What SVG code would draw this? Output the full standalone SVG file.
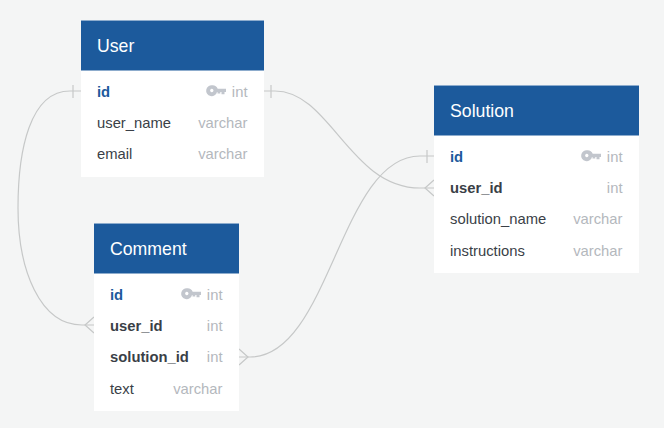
<svg xmlns="http://www.w3.org/2000/svg" width="664" height="428" viewBox="0 0 664 428">
<defs>
<g id="key"><path class="keyi" fill-rule="evenodd" d="M5.500 -5.800a5.500 5.500 0 0 1 5.200 3.500h8.300v3.200h-1.500v2.300h-3v-2.300h-1.200v1.700h-2.800v-1.700h-.5a5.500 5.500 0 1 1 -4.500 -6.700zM4.800 -2.200a1.700 1.700 0 1 0 .01 0z"/></g>
</defs>
<style>
text{font-family:"Liberation Sans",Arial,sans-serif;font-size:14.8px;fill:#3a3f47}
.h{font-size:17.7px;fill:#fff}
.b{font-weight:bold}
.p{font-weight:bold;fill:#1c5a9c}
.t{text-anchor:end;fill:#b4b8bd}
.hd{fill:#1c5a9c}
.bd{fill:#fff}
.keyi{fill:#c2c6cd}
.c{fill:none;stroke:#c6c8c8;stroke-width:1.2}
</style>
<rect width="664" height="428" fill="#f4f5f5"/>
<g id="connectors">
<path class="c" d="M81 91H70C30 91 18 150 18 208C18 270 40 325 82 325H94"/>
<path class="c" d="M73 85V98"/>
<path class="c" d="M94 317L85 325L94 333"/>
<path class="c" d="M264 91H275C330 91 350 188 420 188H434"/>
<path class="c" d="M271 85V98"/>
<path class="c" d="M434 180L425 188L434 196"/>
<path class="c" d="M239 357H250C330 357 340 156 420 156H434"/>
<path class="c" d="M427 150V163"/>
<path class="c" d="M239 349L248 357L239 365"/>
</g>
<g id="user">
<rect class="bd" x="81" y="20" width="183" height="157"/>
<rect class="hd" x="81" y="20.500" width="183" height="50"/>
<text class="h" x="97" y="51.500">User</text>
<text class="p" x="97" y="96.500">id</text><use href="#key" x="207" y="91"/><text class="t" x="247.500" y="96.500">int</text>
<text x="97" y="128">user_name</text><text class="t" x="247.500" y="128">varchar</text>
<text x="97" y="159">email</text><text class="t" x="247.500" y="159">varchar</text>
</g>
<g id="comment">
<rect class="bd" x="94" y="223" width="145" height="188"/>
<rect class="hd" x="94" y="223.500" width="145" height="50"/>
<text class="h" x="110" y="254.500">Comment</text>
<text class="p" x="110" y="300">id</text><use href="#key" x="182" y="294"/><text class="t" x="222.500" y="300">int</text>
<text class="b" x="110" y="331">user_id</text><text class="t" x="222.500" y="331">int</text>
<text class="b" x="110" y="362">solution_id</text><text class="t" x="222.500" y="362">int</text>
<text x="110" y="394">text</text><text class="t" x="222.500" y="394">varchar</text>
</g>
<g id="solution">
<rect class="bd" x="434" y="85" width="205" height="188"/>
<rect class="hd" x="434" y="85.500" width="205" height="50"/>
<text class="h" x="450" y="116.500">Solution</text>
<text class="p" x="450" y="162">id</text><use href="#key" x="582" y="156"/><text class="t" x="622.500" y="162">int</text>
<text class="b" x="450" y="193">user_id</text><text class="t" x="622.500" y="193">int</text>
<text x="450" y="224">solution_name</text><text class="t" x="622.500" y="224">varchar</text>
<text x="450" y="256">instructions</text><text class="t" x="622.500" y="256">varchar</text>
</g>
</svg>
